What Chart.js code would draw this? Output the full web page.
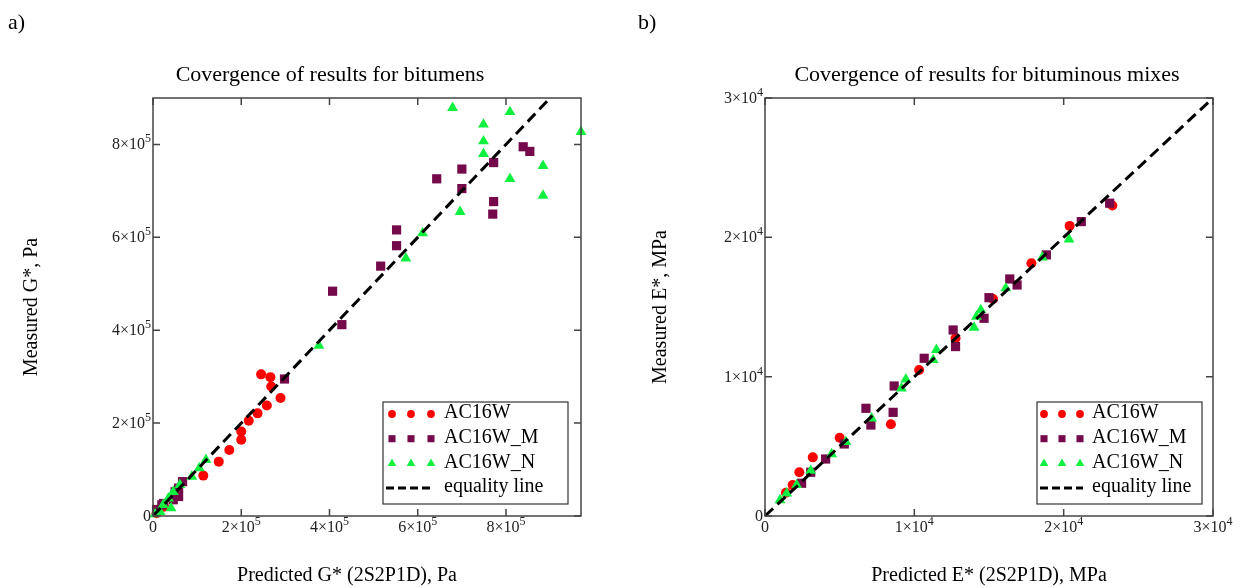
<!DOCTYPE html>
<html>
<head>
<meta charset="utf-8">
<script src="https://cdn.jsdelivr.net/npm/chart.js@4.4.1/dist/chart.umd.min.js"></script>
<style>
html, body { margin: 0; padding: 0; background: #fff; }
#wrap { position: relative; width: 1244px; height: 588px; }
canvas { position: absolute; top: 0; }
</style>
</head>
<body>
<div id="wrap">
  <canvas id="chartA" width="622" height="588" style="left:0"></canvas>
  <canvas id="chartB" width="622" height="588" style="left:622px"></canvas>
</div>
<script>
// a) bitumens, G* in Pa (predicted x, measured y)
var bitW_x = [8000, 25000, 114000, 149000, 173000, 200000, 200000, 217000, 237000, 258000, 268000, 266000, 245000, 289000];
var bitW_y = [6000, 20000, 87000, 117000, 142000, 164000, 182000, 205000, 221000, 238000, 279000, 299000, 305000, 254000];
var bitM_x = [8000, 20000, 24000, 46000, 58000, 58000, 50000, 67000, 298000, 428000, 407000, 516000, 552000, 552000, 643000, 700000, 700000, 772000, 770000, 772000, 839000, 854000];
var bitM_y = [14000, 24000, 27000, 35000, 42000, 60000, 52000, 74000, 295000, 412000, 484000, 538000, 582000, 616000, 726000, 747000, 705000, 761000, 650000, 677000, 795000, 785000];
var bitN_x = [5000, 16000, 23000, 41000, 35000, 46000, 61000, 88000, 105000, 120000, 376000, 573000, 611000, 696000, 749000, 749000, 749000, 679000, 809000, 809000, 884000, 884000, 970000];
var bitN_y = [4000, 9000, 24000, 17000, 38000, 52000, 67000, 85000, 103000, 121000, 367000, 555000, 609000, 655000, 780000, 807000, 843000, 879000, 870000, 726000, 754000, 690000, 827000];
var bitEq = [0, 900000];
var bitTicks = [0, 200000, 400000, 600000, 800000];

// b) bituminous mixes, E* in MPa
var mixW_x = [1400, 1850, 2300, 3200, 5000, 8430, 10320, 12760, 15270, 17840, 20400, 23260];
var mixW_y = [1670, 2230, 3140, 4210, 5620, 6580, 10480, 12760, 15580, 18140, 20820, 22280];
var mixM_x = [2450, 3060, 4060, 5310, 7090, 6760, 8580, 8650, 10660, 12760, 12600, 14670, 15000, 16880, 16390, 18840, 21180, 23080];
var mixM_y = [2350, 3140, 4090, 5170, 6530, 7730, 7440, 9330, 11320, 12160, 13350, 14190, 15670, 16580, 17010, 18740, 21130, 22450];
var mixN_x = [1000, 1450, 2120, 3060, 4460, 5420, 7140, 9140, 9430, 11260, 11480, 14000, 14160, 14450, 16120, 18570, 20360];
var mixN_y = [1150, 1630, 2230, 3250, 4450, 5330, 7010, 9170, 9810, 11200, 11920, 13520, 14310, 14790, 16350, 18570, 19860];
var mixEq = [0, 30000];
var mixTicks = [0, 10000, 20000, 30000];

var seriesNames = ['AC16W', 'AC16W_M', 'AC16W_N', 'equality line'];

const serif = '"Liberation Serif", "Times New Roman", serif';
const RED = '#ff0000', MAROON = '#740a4a', GREEN = '#10f040';

function pts(xs, ys) {
    return xs.map((v, i) => ({ x: v, y: ys[i] }));
}

function pointSet(label, xs, ys, color, style, r, order) {
    return {
        label: label,
        data: pts(xs, ys),
        backgroundColor: color,
        borderColor: color,
        pointStyle: style,
        pointRadius: r,
        pointBorderWidth: 0,
        order: order,
        clip: false
    };
}

function eqSet(vals) {
    return {
        label: seriesNames[3],
        data: pts(vals, vals),
        showLine: true,
        borderColor: '#000',
        borderWidth: 3,
        borderDash: [11, 6],
        pointRadius: 0,
        order: 0
    };
}

// "2x10^5" style labels, superscript drawn smaller and raised
function sciParts(v) {
    if (v === 0) return ['0', ''];
    const e = Math.floor(Math.log10(v) + 1e-9);
    return [Math.round(v / Math.pow(10, e)) + '\u00d710', String(e)];
}

function drawSci(ctx, v, x, y, align) {
    const p = sciParts(v);
    ctx.font = '16px ' + serif;
    const w1 = ctx.measureText(p[0]).width;
    ctx.font = '12px ' + serif;
    const w2 = p[1] ? ctx.measureText(p[1]).width : 0;
    const x0 = align === 'right' ? x - w1 - w2 : x - (w1 + w2) / 2;
    ctx.textAlign = 'left';
    ctx.textBaseline = 'alphabetic';
    ctx.font = '16px ' + serif;
    ctx.fillText(p[0], x0, y);
    if (p[1]) {
        ctx.font = '12px ' + serif;
        ctx.fillText(p[1], x0 + w1, y - 7);
    }
}

const gracePlugin = {
    id: 'grace',
    afterDraw(chart, args, o) {
        const ctx = chart.ctx, a = chart.chartArea;
        const xs = chart.scales.x, ys = chart.scales.y;
        ctx.save();

        // frame + inward ticks on all four sides
        ctx.strokeStyle = '#444';
        ctx.lineWidth = 1.5;
        ctx.strokeRect(a.left, a.top, a.right - a.left, a.bottom - a.top);
        ctx.beginPath();
        xs.ticks.forEach(t => {
            const px = xs.getPixelForValue(t.value);
            ctx.moveTo(px, a.bottom); ctx.lineTo(px, a.bottom - 7);
            ctx.moveTo(px, a.top); ctx.lineTo(px, a.top + 7);
        });
        ys.ticks.forEach(t => {
            const py = ys.getPixelForValue(t.value);
            ctx.moveTo(a.left, py); ctx.lineTo(a.left + 7, py);
            ctx.moveTo(a.right, py); ctx.lineTo(a.right - 7, py);
        });
        ctx.stroke();

        ctx.fillStyle = '#222';
        xs.ticks.forEach(t => drawSci(ctx, t.value, xs.getPixelForValue(t.value), a.bottom + 16, 'center'));
        ys.ticks.forEach(t => drawSci(ctx, t.value, a.left - 2, ys.getPixelForValue(t.value) + 5, 'right'));

        // titles
        ctx.fillStyle = '#000';
        ctx.textBaseline = 'alphabetic';
        ctx.font = '22px ' + serif;
        ctx.textAlign = 'left';
        ctx.fillText(o.letter, o.letterX, 29);
        ctx.textAlign = 'center';
        ctx.fillText(o.title, o.titleX, 81);
        ctx.font = '20px ' + serif;
        ctx.fillText(o.xTitle, o.xTitleX, 581);
        ctx.save();
        ctx.translate(o.yTitleX, (a.top + a.bottom) / 2);
        ctx.rotate(-Math.PI / 2);
        ctx.fillText(o.yTitle, 0, 0);
        ctx.restore();

        // legend: three symbols per row, as in the original
        const L = o.legend;
        ctx.fillStyle = '#fff';
        ctx.fillRect(L.x, L.y, L.w, L.h);
        ctx.strokeStyle = '#333';
        ctx.lineWidth = 1.2;
        ctx.strokeRect(L.x, L.y, L.w, L.h);
        ctx.font = '20px ' + serif;
        ctx.textAlign = 'left';
        ctx.textBaseline = 'middle';
        chart.data.datasets.forEach((ds, i) => {
            const yy = L.y + 12 + i * 24.7;
            if (ds.showLine) {
                ctx.save();
                ctx.strokeStyle = ds.borderColor;
                ctx.lineWidth = 3;
                ctx.setLineDash([8, 4]);
                ctx.beginPath();
                ctx.moveTo(L.x + L.line[0], yy);
                ctx.lineTo(L.x + L.line[1], yy);
                ctx.stroke();
                ctx.restore();
            } else {
                ctx.fillStyle = ds.backgroundColor;
                const r = ds.pointStyle === 'circle' ? 3.9 : 5;
                L.sym.forEach(dx => {
                    Chart.helpers.drawPoint(ctx, { pointStyle: ds.pointStyle, radius: r, rotation: 0, borderWidth: 0 }, L.x + dx, yy);
                });
            }
            ctx.fillStyle = '#000';
            ctx.fillText(ds.label, L.x + L.textX, yy - 1);
        });
        ctx.restore();
    }
};

function axis(max, tickVals) {
    return {
        type: 'linear',
        display: false,
        min: 0,
        max: max,
        afterBuildTicks: s => { s.ticks = tickVals.map(v => ({ value: v })); }
    };
}

function makeChart(id, sets, xMax, yMax, tickVals, padRight, extra) {
    const ctx = document.getElementById(id).getContext('2d');
    return new Chart(ctx, {
        type: 'scatter',
        data: { datasets: sets },
        options: {
            responsive: false,
            animation: false,
            layout: { padding: { top: 98, bottom: 72, left: extra.left, right: padRight } },
            scales: {
                x: axis(xMax, tickVals),
                y: axis(yMax, tickVals)
            },
            plugins: {
                legend: { display: false },
                title: { display: false },
                tooltip: { enabled: false },
                grace: extra
            }
        },
        plugins: [gracePlugin]
    });
}

var chartA = makeChart('chartA', [
    pointSet(seriesNames[0], bitW_x, bitW_y, RED, 'circle', 5, 3),
    pointSet(seriesNames[1], bitM_x, bitM_y, MAROON, 'rect', 6.5, 2),
    pointSet(seriesNames[2], bitN_x, bitN_y, GREEN, 'triangle', 6.3, 1),
    eqSet(bitEq)
], 970000, 900000, bitTicks, 41, {
    left: 153,
    letter: 'a)', letterX: 8,
    title: 'Covergence of results for bitumens', titleX: 330,
    xTitle: 'Predicted G* (2S2P1D), Pa', xTitleX: 347,
    yTitle: 'Measured G*, Pa', yTitleX: 37,
    legend: { x: 383, y: 402, w: 185, h: 102, sym: [9, 28, 48], textX: 61, line: [3, 51] }
});

var chartB = makeChart('chartB', [
    pointSet(seriesNames[0], mixW_x, mixW_y, RED, 'circle', 5, 3),
    pointSet(seriesNames[1], mixM_x, mixM_y, MAROON, 'rect', 6.5, 2),
    pointSet(seriesNames[2], mixN_x, mixN_y, GREEN, 'triangle', 6.3, 1),
    eqSet(mixEq)
], 30000, 30000, mixTicks, 31, {
    left: 143,
    letter: 'b)', letterX: 16,
    title: 'Covergence of results for bituminous mixes', titleX: 365,
    xTitle: 'Predicted E* (2S2P1D), MPa', xTitleX: 367,
    yTitle: 'Measured E*, MPa', yTitleX: 44,
    legend: { x: 415, y: 402, w: 165, h: 102, sym: [7, 25, 43], textX: 55, line: [3, 46] }
});
</script>
</body>
</html>
